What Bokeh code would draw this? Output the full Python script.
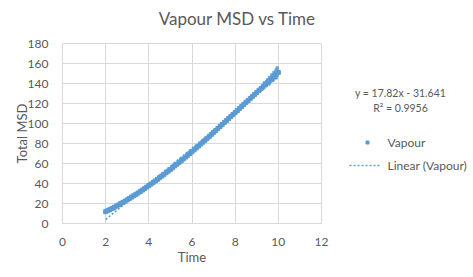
from bokeh.plotting import figure
from bokeh.layouts import row, column
from bokeh.models import FixedTicker, Range1d
from bokeh.core.properties import value
from bokeh.embed import file_html
from bokeh.resources import INLINE

# ---- data ----
time = [2.0, 2.1, 2.2, 2.3, 2.4, 2.5, 2.6, 2.7, 2.8, 2.9,
        3.0, 3.1, 3.2, 3.3, 3.4, 3.5, 3.6, 3.7, 3.8, 3.9,
        4.0, 4.1, 4.2, 4.3, 4.4, 4.5, 4.6, 4.7, 4.8, 4.9,
        5.0, 5.1, 5.2, 5.3, 5.4, 5.5, 5.6, 5.7, 5.8, 5.9,
        6.0, 6.1, 6.2, 6.3, 6.4, 6.5, 6.6, 6.7, 6.8, 6.9,
        7.0, 7.1, 7.2, 7.3, 7.4, 7.5, 7.6, 7.7, 7.8, 7.9,
        8.0, 8.1, 8.2, 8.3, 8.4, 8.5, 8.6, 8.7, 8.8, 8.9,
        9.0, 9.1, 9.2, 9.3, 9.4, 9.5, 9.6, 9.7, 9.8, 9.9, 10.0]
total_msd = [11.8, 12.9, 14.1, 15.1, 16.3, 17.5, 18.6, 19.9, 21.1, 22.4,
             23.7, 25.0, 26.4, 27.7, 29.1, 30.5, 31.9, 33.4, 34.8, 36.4,
             37.9, 39.4, 41.0, 42.5, 44.2, 45.8, 47.4, 49.1, 50.8, 52.4,
             54.1, 55.8, 57.6, 59.3, 61.1, 62.8, 64.6, 66.4, 68.2, 70.0,
             71.8, 73.7, 75.6, 77.5, 79.4, 81.3, 83.2, 85.2, 87.1, 89.1,
             91.1, 93.0, 95.1, 97.0, 99.0, 101.1, 103.0, 105.0, 107.1, 109.0,
             111.0, 113.0, 115.1, 117.0, 119.0, 121.1, 123.0, 125.1, 127.0, 129.0,
             131.0, 133.1, 135.0, 137.1, 139.0, 141.1, 143.0, 145.1, 147.0, 149.1, 151.0]
# scattered points around the upper end of the band
spread_time = [9.35, 9.5, 9.6, 9.7, 9.8, 9.9, 9.95, 9.55, 9.75, 9.9]
spread_msd = [140.5, 143.5, 146.0, 148.5, 151.0, 153.5, 155.5, 139.5, 143.5, 146.0]

trend_slope = 17.82
trend_intercept = -31.641
trend_r2 = 0.9956
trend_x = [2.0, 10.0]

x_ticks = [0, 2, 4, 6, 8, 10, 12]
y_ticks = [0, 20, 40, 60, 80, 100, 120, 140, 160, 180]

title_text = "Vapour MSD vs Time"
x_title = "Time"
y_title = "Total MSD"
series_name = "Vapour"
trend_name = "Linear (Vapour)"
equation_lines = [f"y = {trend_slope}x - {abs(trend_intercept)}", f"R² = {trend_r2}"]

BLUE = "#5B9BD5"
TEXT = "#595959"
GRID = "#D9D9D9"
FONT = "Lato"

TITLE_H = 36

# ---------------- title strip ----------------
t = figure(width=473, height=TITLE_H, output_backend="svg", toolbar_location=None, title=None,
           x_range=Range1d(0, 473), y_range=Range1d(0, TITLE_H), min_border=0,
           x_axis_type=None, y_axis_type=None)
t.outline_line_color = None
t.grid.visible = False
t.background_fill_color = "white"
t.border_fill_color = "white"
t.text(x=[237], y=[TITLE_H - 18], text=[title_text], text_font=value(FONT),
       text_font_size="17px", text_color=TEXT, text_align="center", text_baseline="middle")

# ---------------- main chart ----------------
p = figure(width=330, height=277 - TITLE_H, output_backend="svg", toolbar_location=None, title=None,
           x_range=Range1d(0, 12), y_range=Range1d(0, 180),
           min_border_left=62, min_border_right=9, min_border_top=43 - TITLE_H, min_border_bottom=54)
p.background_fill_color = "white"
p.border_fill_color = "white"
p.outline_line_color = GRID

trend_y = [trend_slope * v + trend_intercept for v in trend_x]

p.scatter(time, total_msd, marker="square", size=4, color=BLUE, line_color=BLUE)
p.scatter(spread_time, spread_msd, marker="square", size=2.5, color=BLUE, line_color=BLUE, alpha=0.8)
p.line(trend_x, trend_y, line_color=BLUE, line_width=1.6, line_dash="2 2")

for ax in (p.xaxis[0], p.yaxis[0]):
    ax.axis_line_color = None
    ax.major_tick_line_color = None
    ax.minor_tick_line_color = None
    ax.major_label_text_color = TEXT
    ax.major_label_text_font = FONT
    ax.major_label_text_font_size = "12px"
    ax.axis_label_text_color = TEXT
    ax.axis_label_text_font = FONT
    ax.axis_label_text_font_size = "13px"
    ax.axis_label_text_font_style = "normal"
p.xaxis.ticker = FixedTicker(ticks=x_ticks)
p.yaxis.ticker = FixedTicker(ticks=y_ticks)
p.xaxis.axis_label = x_title
p.yaxis.axis_label = y_title
p.xaxis.major_label_standoff = 8
p.yaxis.major_label_standoff = 8
p.xaxis.axis_label_standoff = 0
p.yaxis.axis_label_standoff = -5

p.xgrid.grid_line_color = GRID
p.ygrid.grid_line_color = GRID

# ---------------- right-hand side: equation and legend ----------------
# same vertical frame as the main chart, so y values share the 0-180 scale
s = figure(width=143, height=277 - TITLE_H, output_backend="svg", toolbar_location=None, title=None,
           x_range=Range1d(0, 143), y_range=Range1d(0, 180),
           min_border_left=0, min_border_right=0, min_border_top=43 - TITLE_H, min_border_bottom=54,
           x_axis_type=None, y_axis_type=None)
s.outline_line_color = None
s.grid.visible = False
s.background_fill_color = "white"
s.border_fill_color = "white"

s.text(x=[70, 70], y=[131, 116], text=equation_lines,
       text_font=value(FONT), text_font_size="10.5px", text_color=TEXT,
       text_align="center", text_baseline="middle")

# legend entries
s.scatter([37], [81], marker="square", size=3, color=BLUE, line_color=BLUE)
s.line([19, 49], [58, 58], line_color=BLUE, line_width=1.6, line_dash="2 2")
s.text(x=[57, 57], y=[81, 58], text=[series_name, trend_name],
       text_font=value(FONT), text_font_size="12px", text_color=TEXT,
       text_align="left", text_baseline="middle")

layout = column(t, row(p, s))
open("out.html", "w").write(file_html(layout, INLINE))
